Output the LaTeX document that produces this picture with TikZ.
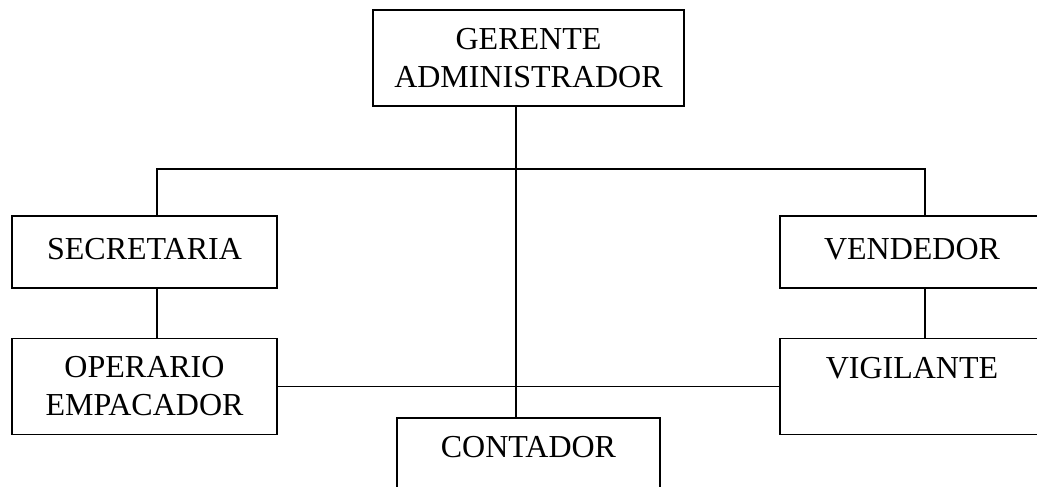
\documentclass[tikz,border=0pt]{standalone}
\usepackage{fontspec}
\setmainfont{Liberation Serif}
\usetikzlibrary{positioning}

\begin{document}
\begin{tikzpicture}[x=1pt,y=-1pt,node distance=49pt,line width=1.5pt,
  cargo/.style={draw,line width=1.5pt,align=center,inner sep=0pt,
                font=\fontsize{32}{38}\selectfont}]
\useasboundingbox (0,0) rectangle (1037,487);
\clip (0,0) rectangle (1037,487);
\node[cargo,minimum width=311pt,minimum height=96pt] (gerente)    at (528.5,58)  {GERENTE\\ADMINISTRADOR};
\node[cargo,minimum width=265pt,minimum height=72pt] (secretaria) at (144.5,252) {\strut SECRETARIA};
\node[cargo,minimum width=265pt,minimum height=96pt,below=of secretaria] (operario) {OPERARIO\\EMPACADOR};
\node[cargo,minimum width=264pt,minimum height=72pt] (vendedor)   at (912,252)   {\strut VENDEDOR};
\node[cargo,minimum width=264pt,minimum height=96pt,below=of vendedor]   (vigilante) {VIGILANTE\\~};
\node[cargo,minimum width=263pt,minimum height=96pt] (contador)   at (528.5,466) {CONTADOR\\~};
\coordinate (bus) at (516,169);
%-lines-%
\draw (gerente.south -| bus) -- (contador.north -| bus);
\draw ([xshift=12.5pt]secretaria.north) |- (bus) -| ([xshift=13pt]vendedor.north);
\draw ([xshift=12.5pt]secretaria.south) -- ([xshift=12.5pt]operario.north);
\draw ([xshift=13pt]vendedor.south) -- ([xshift=13pt]vigilante.north);
\draw (operario.east) -- (vigilante.west);
\end{tikzpicture}
\end{document}
